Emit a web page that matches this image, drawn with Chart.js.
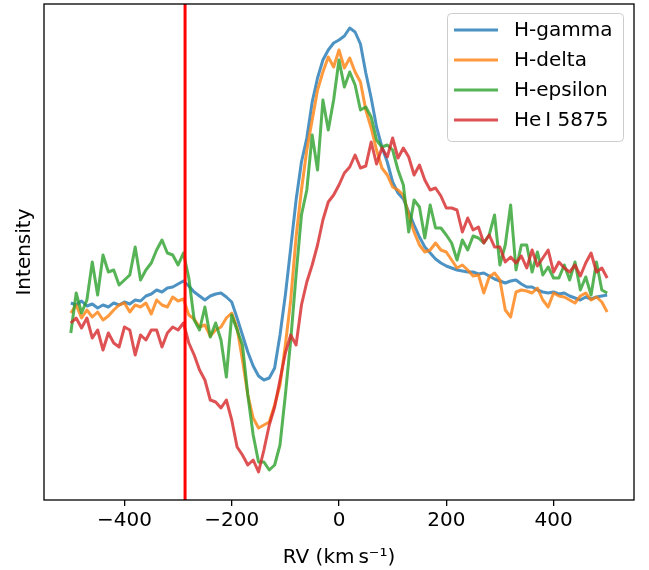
<!DOCTYPE html>
<html>
<head>
<meta charset="utf-8">
<script src="https://cdn.jsdelivr.net/npm/chart.js@4.4.1/dist/chart.umd.min.js"></script>
<style>
  html, body { margin: 0; padding: 0; background: #fff; }
  #wrap { width: 649px; height: 570px; }
</style>
</head>
<body>
<div id="wrap"><canvas id="rvChart" width="649" height="570"></canvas></div>
<script>
// 速度 (km/s)
const rv = [-500,-490,-480,-470,-460,-450,-440,-430,-420,-410,
  -400,-390,-380,-370,-360,-350,-340,-330,-320,-310,
  -300,-290,-280,-270,-260,-250,-240,-230,-220,-210,
  -200,-190,-180,-170,-160,-150,-140,-130,-120,-110,
  -100,-90,-80,-70,-60,-50,-40,-30,-20,-10,
  0,
  10,20,30,40,50,60,70,80,90,100,
  110,120,130,140,150,160,170,180,190,200,
  210,220,230,240,250,260,270,280,290,300,
  310,320,330,340,350,360,370,380,390,400,
  410,420,430,440,450,460,470,480,490,500];

const hGamma = [0.985,0.975,0.995,0.97,0.98,0.96,0.975,0.965,0.985,0.975,
  0.99,0.98,1.0,0.995,1.02,1.03,1.05,1.04,1.06,1.065,
  1.08,1.095,1.07,1.04,1.02,1.0,1.02,1.03,1.035,1.015,
  0.99,0.91,0.825,0.74,0.67,0.62,0.60,0.61,0.66,0.825,
  1.025,1.26,1.50,1.69,1.81,1.99,2.11,2.20,2.25,2.285,
  2.30,
  2.32,2.36,2.34,2.28,2.135,2.01,1.865,1.765,1.69,1.59,
  1.535,1.505,1.44,1.375,1.315,1.265,1.235,1.205,1.185,1.17,
  1.16,1.15,1.145,1.14,1.14,1.13,1.135,1.12,1.105,1.095,
  1.085,1.095,1.10,1.08,1.065,1.065,1.05,1.04,1.035,1.04,
  1.03,1.035,1.02,1.01,1.0,1.015,1.005,1.015,1.02,1.025];

const hDelta = [0.935,0.975,0.91,0.95,0.915,0.94,0.90,0.92,0.95,0.975,
  0.985,0.94,0.975,0.965,0.985,0.93,1.0,0.975,0.965,1.015,
  0.995,1.005,0.925,0.905,0.865,0.875,0.82,0.85,0.865,0.91,
  0.935,0.86,0.70,0.525,0.41,0.36,0.375,0.39,0.475,0.575,
  0.775,1.0,1.315,1.55,1.75,1.90,2.05,2.14,2.215,2.165,
  2.25,
  2.16,2.21,2.14,2.09,1.95,1.86,1.75,1.66,1.625,1.565,
  1.55,1.525,1.425,1.34,1.275,1.24,1.25,1.285,1.25,1.24,
  1.20,1.16,1.175,1.15,1.12,1.125,1.035,1.115,1.135,1.10,
  0.95,0.915,1.04,1.05,1.045,1.035,1.06,1.0,0.965,1.035,
  1.02,1.015,1.0,0.985,1.02,1.035,1.0,1.015,0.99,0.94];

const hEpsilon = [0.835,1.035,0.935,1.0,1.19,1.025,1.225,1.14,1.15,1.075,
  1.10,1.125,1.265,1.10,1.15,1.185,1.25,1.30,1.235,1.225,
  1.175,1.235,1.11,0.90,0.85,0.965,0.815,0.885,0.80,0.615,
  0.925,0.85,0.775,0.525,0.325,0.19,0.19,0.15,0.175,0.275,
  0.525,0.80,1.125,1.425,1.55,1.825,1.65,2.00,1.85,2.00,
  2.20,
  2.065,2.14,2.075,1.95,1.965,1.915,1.80,1.765,1.775,1.75,
  1.65,1.575,1.34,1.50,1.465,1.31,1.475,1.36,1.36,1.325,
  1.285,1.20,1.30,1.25,1.32,1.31,1.285,1.325,1.425,1.175,
  1.275,1.475,1.15,1.275,1.275,1.14,1.24,1.125,1.165,1.11,
  1.11,1.175,1.10,1.19,1.05,1.115,1.025,1.19,1.05,1.035];

const heI5875 = [0.885,0.91,0.86,0.91,0.81,0.85,0.75,0.835,0.785,0.765,
  0.865,0.85,0.725,0.825,0.80,0.85,0.85,0.765,0.835,0.865,
  0.85,0.885,0.785,0.725,0.65,0.60,0.50,0.49,0.46,0.50,
  0.40,0.265,0.225,0.175,0.20,0.14,0.25,0.375,0.465,0.60,
  0.735,0.825,0.775,0.975,1.09,1.175,1.275,1.40,1.49,1.525,
  1.575,
  1.635,1.665,1.725,1.66,1.67,1.79,1.68,1.76,1.715,1.81,
  1.71,1.76,1.715,1.625,1.675,1.60,1.55,1.56,1.52,1.46,
  1.46,1.45,1.34,1.41,1.35,1.365,1.285,1.325,1.265,1.265,
  1.19,1.215,1.185,1.22,1.16,1.25,1.17,1.21,1.25,1.14,
  1.19,1.16,1.14,1.175,1.12,1.185,1.235,1.14,1.16,1.11];

const seriesNames = ['H-gamma', 'H-delta', 'H-epsilon', 'He\u2009I 5875'];
const xTicks = [-400, -200, 0, 200, 400];
const markerRV = -287;   // 紅色垂直線
const xMin = -550, xMax = 550;
const yMin = 0, yMax = 2.48;

const colors = ['rgba(31,119,180,0.8)', 'rgba(255,127,14,0.8)', 'rgba(44,160,44,0.8)', 'rgba(214,39,40,0.8)'];
const FONT = '"DejaVu Sans", sans-serif';

Chart.defaults.font.family = FONT;
Chart.defaults.font.size = 20;
Chart.defaults.color = '#000';

function toPoints(arr) {
    return rv.map((x, i) => ({ x: x, y: arr[i] }));
}

const allSeries = [hGamma, hDelta, hEpsilon, heI5875];
const datasets = allSeries.map((arr, i) => ({
    label: seriesNames[i],
    data: toPoints(arr),
    borderColor: colors[i],
    borderWidth: 3,
    pointRadius: 0,
    tension: 0,
    fill: false,
    borderJoinStyle: 'round',
    order: allSeries.length - i
}));

// 外框 + 垂直線
const framePlugin = {
    id: 'framePlugin',
    afterDatasetsDraw(chart) {
        const ctx = chart.ctx;
        const a = chart.chartArea;
        const xs = chart.scales.x;
        const px = xs.getPixelForValue(markerRV);
        ctx.save();
        ctx.strokeStyle = '#ff0000';
        ctx.lineWidth = 3;
        ctx.beginPath();
        ctx.moveTo(px, a.top);
        ctx.lineTo(px, a.bottom);
        ctx.stroke();

        ctx.strokeStyle = '#000';
        ctx.lineWidth = 1.3;
        ctx.strokeRect(a.left, a.top, a.right - a.left, a.bottom - a.top);
        ctx.restore();
    }
};

// 圖例 (右上角)
const legendPlugin = {
    id: 'legendPlugin',
    afterDraw(chart) {
        const ctx = chart.ctx;
        const a = chart.chartArea;
        const w = 176, h = 128;
        const x0 = a.right - 11 - w;
        const y0 = a.top + 9;
        ctx.save();
        ctx.beginPath();
        ctx.roundRect(x0 + 0.5, y0 + 0.5, w, h, 4);
        ctx.fillStyle = 'rgba(255,255,255,0.8)';
        ctx.fill();
        ctx.strokeStyle = '#cccccc';
        ctx.lineWidth = 1;
        ctx.stroke();

        ctx.font = '20px ' + FONT;
        ctx.textBaseline = 'middle';
        ctx.fillStyle = '#000';
        chart.data.datasets.forEach((ds, i) => {
            const cy = y0 + 17 + i * 30;
            ctx.strokeStyle = ds.borderColor;
            ctx.lineWidth = 3;
            ctx.beginPath();
            ctx.moveTo(x0 + 7, cy);
            ctx.lineTo(x0 + 51, cy);
            ctx.stroke();
            ctx.fillText(ds.label, x0 + 67, cy + 1);
        });
        ctx.restore();
    }
};

const chart = new Chart(document.getElementById('rvChart').getContext('2d'), {
    type: 'line',
    data: { datasets: datasets },
    options: {
        responsive: false,
        devicePixelRatio: 1,
        animation: false,
        layout: { padding: { left: 0, right: 15, top: 4, bottom: 0 } },
        plugins: {
            legend: { display: false },
            tooltip: { enabled: false }
        },
        scales: {
            x: {
                type: 'linear',
                min: xMin,
                max: xMax,
                afterBuildTicks: (s) => { s.ticks = xTicks.map(v => ({ value: v })); },
                afterFit: (s) => { s.height = 70; },
                border: { display: false },
                grid: {
                    drawOnChartArea: false,
                    drawTicks: true,
                    tickLength: 6,
                    color: '#000',
                    lineWidth: 1.3
                },
                ticks: {
                    padding: 3,
                    maxRotation: 0,
                    font: { size: 20 },
                    callback: (v) => (v < 0 ? '\u2212' + Math.abs(v) : String(v))
                },
                title: {
                    display: true,
                    text: 'RV (km\u2009s\u207B\u00B9)',
                    font: { size: 20 },
                    padding: { top: 7, bottom: 0 }
                }
            },
            y: {
                min: yMin,
                max: yMax,
                afterFit: (s) => { s.width = 44; },
                border: { display: false },
                grid: { display: false },
                ticks: { display: false },
                title: {
                    display: true,
                    text: 'Intensity',
                    font: { size: 20 },
                    padding: { top: 13, bottom: 0 }
                }
            }
        }
    },
    plugins: [framePlugin, legendPlugin]
});
</script>
</body>
</html>
